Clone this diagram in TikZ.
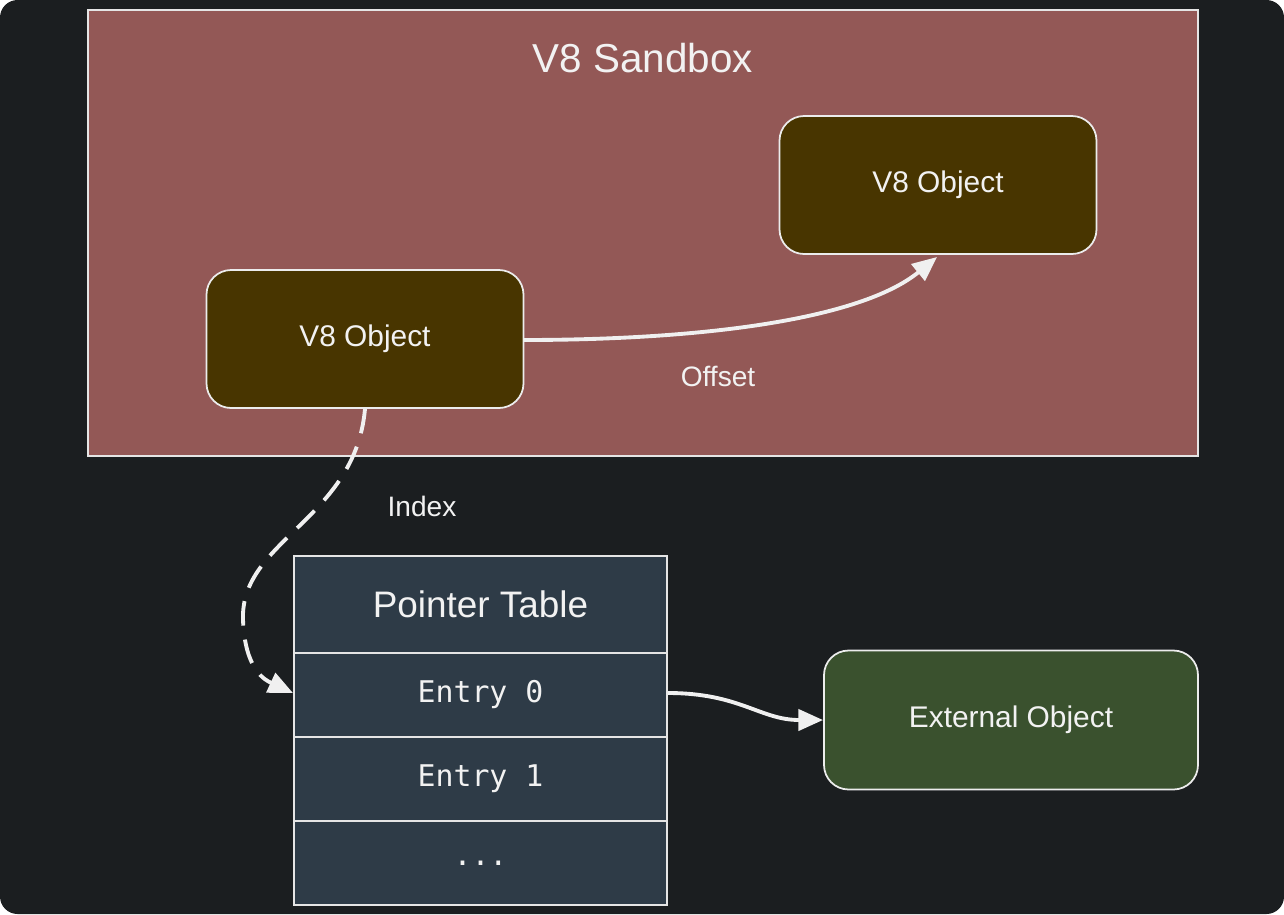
\documentclass[tikz,border=0pt]{standalone}
\usepackage{fontspec}
\setmainfont{Liberation Sans}
\setmonofont{DejaVu Sans Mono}
\usetikzlibrary{arrows.meta}
\begin{document}
\begin{tikzpicture}[x=0.02cm,y=-0.02cm,
  txt/.style={text=white!90!gray},
  obj/.style={draw=white!85!gray,line width=1pt,rounded corners=14pt,fill=#1},
  cell/.style={draw=white!80!gray,line width=1pt,fill=tbl,minimum width=373*0.02cm,minimum height=84*0.02cm,inner sep=0pt,txt,font=\ttfamily\fontsize{17}{20}\selectfont},
  conn/.style={draw=white!88!gray,line width=2.2pt,-{Triangle[length=14pt,width=12pt]}}]
\definecolor{bg}{HTML}{1B1E20}
\definecolor{sand}{HTML}{935856}
\definecolor{objc}{HTML}{483500}
\definecolor{tbl}{HTML}{2E3B47}
\definecolor{ext}{HTML}{3A512E}
\fill[white] (0,0) rectangle (1284,914);
\fill[bg,rounded corners=10pt] (0,0) rectangle (1284,914);
\useasboundingbox (0,0) rectangle (1284,914);
\node[draw=white!80!gray,line width=1pt,fill=sand,minimum width=1110*0.02cm,minimum height=446*0.02cm,inner sep=0pt] (sb) at (643,233) {};
\node[txt,font=\fontsize{23}{26}\selectfont] (sbt) at (643,58) {V8 Sandbox};
\node[obj=objc,minimum width=317*0.02cm,minimum height=138*0.02cm,txt,font=\fontsize{17}{20}\selectfont] (o2) at (938,185) {V8 Object};
\node[obj=objc,minimum width=317*0.02cm,minimum height=138*0.02cm,txt,font=\fontsize{17}{20}\selectfont] (o1) at (365,339) {V8 Object};
\node[obj=ext,minimum width=374*0.02cm,minimum height=139*0.02cm,txt,font=\fontsize{17}{20}\selectfont] (ex) at (1011,720) {External Object};
\node[cell,minimum height=97*0.02cm,font=\fontsize{21}{24}\selectfont] (pt) at (480.5,604.5) {Pointer Table};
\node[cell] (e0) at (480.5,695) {Entry 0};
\node[cell] (e1) at (480.5,779) {Entry 1};
\node[cell] (e2) at (480.5,863) {...};
\coordinate (o1e) at (523,340);
\coordinate (o2b) at (937,257);
\draw[conn] (o1e) .. controls (700,340) and (860,320) .. (o2b);
\node[txt,font=\fontsize{16}{19}\selectfont] (off) at (718,376) {Offset};
\coordinate (o1b) at (365,409);
\coordinate (e0w) at (293,693);
\draw[conn,dash pattern=on 14pt off 8pt] (o1b) .. controls (355,520) and (240,540) .. (243,620) .. controls (245,670) and (265,680) .. (e0w);
\node[txt,font=\fontsize{16}{19}\selectfont] (idx) at (422,506) {Index};
\coordinate (e0e) at (668,693);
\coordinate (exw) at (823,720);
\draw[conn] (e0e) .. controls (740,693) and (760,720) .. (exw);
\end{tikzpicture}
\end{document}
